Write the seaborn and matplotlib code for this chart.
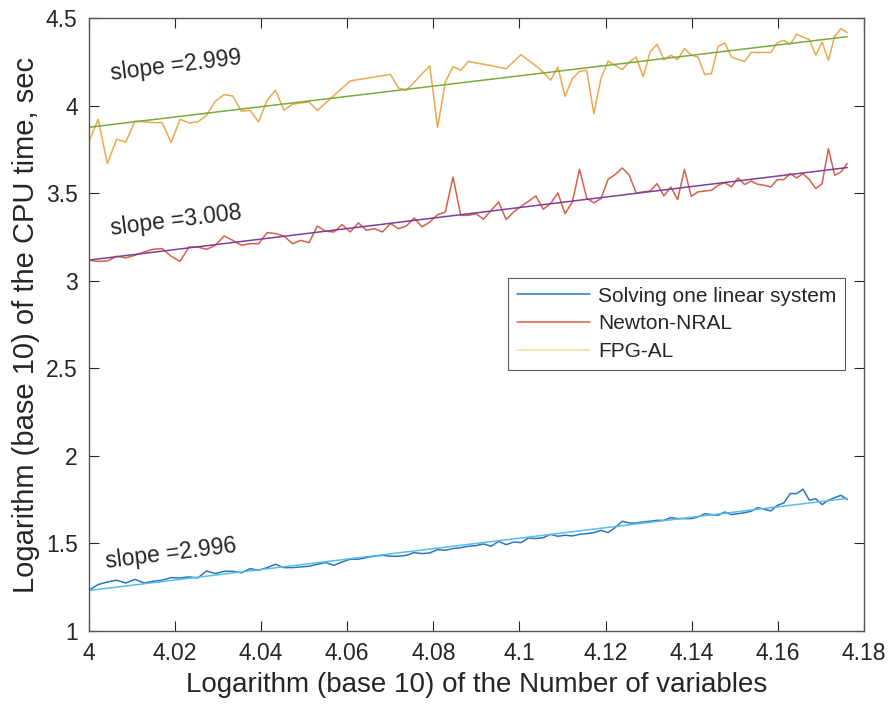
import matplotlib
matplotlib.use("Agg")
import matplotlib.pyplot as plt
import numpy as np
import pandas as pd
import seaborn as sns

# number of variables: 10000, 10050, ..., 15000
n_vars = np.arange(10000, 15001, 50)
log_n = np.log10(n_vars)

one_linear = [
    1.231, 1.264, 1.279, 1.289, 1.273, 1.294, 1.273, 1.283, 1.289, 1.304,
    1.302, 1.308, 1.302, 1.342, 1.327, 1.340, 1.340, 1.331, 1.355, 1.346,
    1.361, 1.380, 1.361, 1.361, 1.365, 1.369, 1.380, 1.390, 1.374, 1.393,
    1.409, 1.409, 1.418, 1.427, 1.431, 1.426, 1.426, 1.431, 1.447, 1.441,
    1.445, 1.464, 1.460, 1.470, 1.475, 1.483, 1.487, 1.496, 1.483, 1.511,
    1.492, 1.507, 1.504, 1.530, 1.527, 1.532, 1.551, 1.540, 1.546, 1.542,
    1.551, 1.555, 1.561, 1.574, 1.561, 1.590, 1.626, 1.616, 1.616, 1.622,
    1.626, 1.631, 1.631, 1.647, 1.641, 1.641, 1.641, 1.650, 1.669, 1.664,
    1.660, 1.679, 1.664, 1.669, 1.675, 1.683, 1.704, 1.694, 1.685, 1.717,
    1.730, 1.784, 1.784, 1.809, 1.746, 1.755, 1.721, 1.746, 1.761, 1.774,
    1.750,
]

newton_nral = [
    3.117, 3.111, 3.113, 3.140, 3.131, 3.146, 3.165, 3.180, 3.184, 3.140,
    3.111, 3.193, 3.193, 3.180, 3.203, 3.256, 3.231, 3.203, 3.212, 3.212,
    3.275, 3.270, 3.256, 3.212, 3.231, 3.218, 3.313, 3.283, 3.279, 3.321,
    3.279, 3.331, 3.289, 3.298, 3.279, 3.327, 3.298, 3.313, 3.359, 3.308,
    3.336, 3.378, 3.393, 3.593, 3.374, 3.374, 3.384, 3.352, 3.403, 3.450,
    3.350, 3.393, 3.426, 3.454, 3.485, 3.409, 3.441, 3.502, 3.384, 3.450,
    3.637, 3.473, 3.445, 3.470, 3.580, 3.607, 3.645, 3.603, 3.502, 3.508,
    3.513, 3.555, 3.485, 3.536, 3.464, 3.637, 3.483, 3.508, 3.513, 3.517,
    3.546, 3.561, 3.536, 3.588, 3.550, 3.570, 3.551, 3.546, 3.536, 3.578,
    3.578, 3.612, 3.588, 3.612, 3.578, 3.527, 3.555, 3.755, 3.603, 3.622,
    3.670,
]

fpg_al = [
    3.793, 3.923, 3.670, 3.809, 3.793, 3.913, 3.908, 3.904, 3.904, 3.790,
    3.923, 3.902, 3.908, 3.946, 4.026, 4.064, 4.056, 3.969, 3.974, 3.908,
    4.031, 4.089, 3.974, 4.009, 4.016, 4.022, 3.974, 4.016, 4.058, 4.100,
    4.142, 4.150, 4.157, 4.165, 4.172, 4.180, 4.102, 4.089, 4.134, 4.182,
    4.228, 3.875, 4.136, 4.224, 4.203, 4.254, 4.245, 4.237, 4.230, 4.220,
    4.212, 4.252, 4.292, 4.260, 4.228, 4.193, 4.146, 4.222, 4.054, 4.155,
    4.197, 4.203, 3.955, 4.155, 4.256, 4.231, 4.207, 4.250, 4.279, 4.165,
    4.308, 4.351, 4.264, 4.289, 4.264, 4.327, 4.289, 4.279, 4.178, 4.184,
    4.339, 4.359, 4.279, 4.264, 4.254, 4.305, 4.305, 4.305, 4.305, 4.361,
    4.374, 4.351, 4.409, 4.393, 4.378, 4.289, 4.365, 4.260, 4.397, 4.441,
    4.418,
]

series_names = ["Solving one linear system", "Newton-NRAL", "FPG-AL"]
slope_labels = ["slope =2.996", "slope =3.008", "slope =2.999"]
slope_pos = [(4.0040, 1.357), (4.0053, 3.260), (4.0053, 4.146)]

x_ticks = [4, 4.02, 4.04, 4.06, 4.08, 4.1, 4.12, 4.14, 4.16, 4.18]
x_tick_labels = ["4", "4.02", "4.04", "4.06", "4.08", "4.1", "4.12", "4.14", "4.16", "4.18"]
y_ticks = [1, 1.5, 2, 2.5, 3, 3.5, 4, 4.5]
y_tick_labels = ["1", "1.5", "2", "2.5", "3", "3.5", "4", "4.5"]

data_colors = ["#2F76B8", "#D6604A", "#EBA94E"]
fit_colors = ["#58BDEA", "#7E3F99", "#77AC3C"]

sns.set_style("ticks")
plt.rcParams["font.family"] = ["Liberation Sans", "DejaVu Sans"]

df = pd.DataFrame({"log_n": log_n, series_names[0]: one_linear,
                   series_names[1]: newton_nral, series_names[2]: fpg_al})

fig = plt.figure(figsize=(8.88, 7.04), dpi=100)
ax = fig.add_axes([0.100, 0.104, 0.873, 0.870])

for name, col in zip(series_names, data_colors):
    sns.lineplot(data=df, x="log_n", y=name, color=col, linewidth=1.1,
                 label=name, ax=ax)

for name, col in zip(series_names, fit_colors):
    sns.regplot(data=df, x="log_n", y=name, scatter=False, ci=None,
                color=col, line_kws={"linewidth": 1.1}, ax=ax)

for txt, (tx, ty) in zip(slope_labels, slope_pos):
    ax.text(tx, ty, txt, fontsize=16.5, rotation=7, rotation_mode="anchor",
            ha="left", va="baseline", color="#262626")

ax.set_xlim(4, 4.18)
ax.set_ylim(1, 4.5)
ax.set_xticks(x_ticks)
ax.set_xticklabels(x_tick_labels)
ax.set_yticks(y_ticks)
ax.set_yticklabels(y_tick_labels)
ax.tick_params(direction="in", length=7, width=0.8, top=True, right=True,
               labelsize=16.5, colors="#262626", pad=8)
for sp in ax.spines.values():
    sp.set_visible(True)
    sp.set_color("#555555")
    sp.set_linewidth(1.0)

ax.set_xlabel("Logarithm (base 10) of the Number of variables", fontsize=20,
              color="#262626", labelpad=5)
ax.set_ylabel("Logarithm (base 10) of the CPU time, sec", fontsize=21,
              color="#262626", labelpad=4)

leg = ax.legend(loc="upper left", bbox_to_anchor=(0.541, 0.576), fontsize=15,
                frameon=True, fancybox=False, edgecolor="#333333",
                handlelength=3.5, handletextpad=0.4, borderaxespad=0,
                labelspacing=0.42, borderpad=0.42)
leg.get_frame().set_linewidth(0.8)
leg.legend_handles[2].set_color("#F2D9A0")

fig.savefig("out.png", dpi=100)
